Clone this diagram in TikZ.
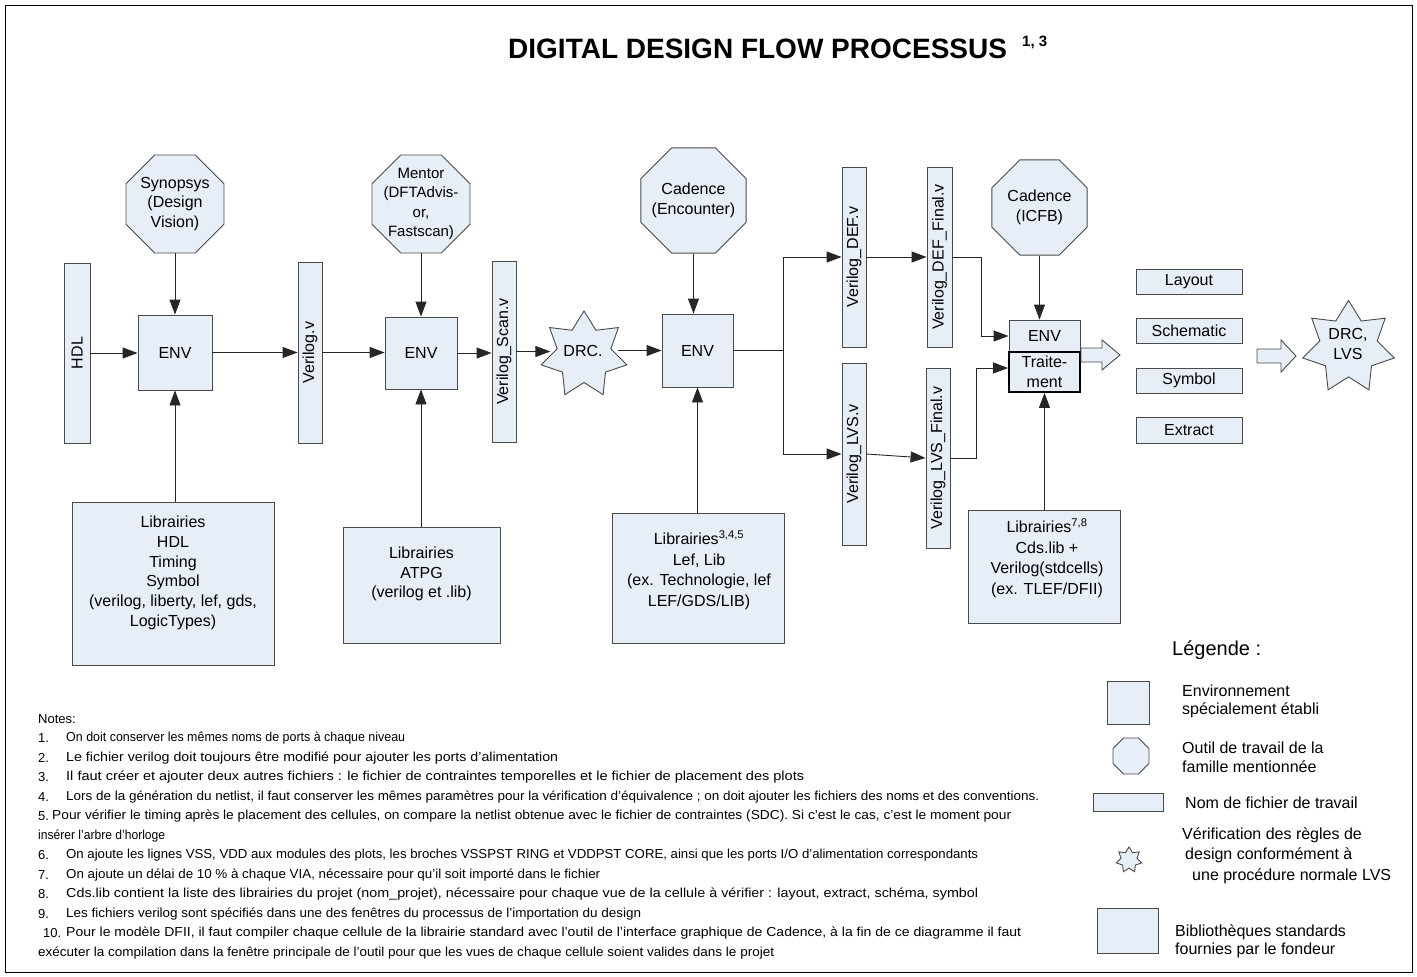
\documentclass[tikz,border=0pt]{standalone}
\usepackage{fontspec}
\setmainfont{Liberation Sans}
\usepackage{graphicx}
\usetikzlibrary{shapes.geometric,arrows.meta,calc}

\definecolor{boxfill}{HTML}{E8EEF7}
\definecolor{boxline}{HTML}{4A4A4A}
\definecolor{wire}{HTML}{262626}

% stretch a note line to a given width (pt) while keeping its height
\newcommand{\fitto}[2]{\resizebox{#1pt}{\height}{#2}}

\tikzset{
  shapebase/.style={draw=boxline, fill=boxfill, line width=0.9pt, inner sep=0pt},
  procbox/.style={shapebase, rectangle, font=\fontsize{16}{19.5}\selectfont, align=center},
  barbox/.style={shapebase, rectangle},
  octo/.style={shapebase, regular polygon, regular polygon sides=8},
  burst/.style={shapebase, star, star points=7, star point ratio=1.6},
  lbl/.style={font=\fontsize{16}{19.5}\selectfont, align=center, inner sep=0pt},
  vlbl/.style={lbl, rotate=90},
  notetxt/.style={font=\fontsize{13}{15}\selectfont, inner sep=0pt, anchor=west},
  legtxt/.style={font=\fontsize{16}{19}\selectfont, inner sep=0pt, anchor=west, align=left},
  arr/.style={draw=wire, line width=0.9pt, -{Triangle[length=15pt,width=11pt]}},
  hollow/.style={draw=boxline, fill=boxfill, line width=0.9pt},
}

\begin{document}
\begin{tikzpicture}[x=1pt,y=-1pt]
\useasboundingbox (0,0) rectangle (1417,977);
\draw[black, line width=1pt] (5,5) rectangle (1412,972);

% ---------- title ----------
\node[font=\fontsize{28}{32}\selectfont\bfseries, anchor=base west, inner sep=0pt] (title) at (508,58) {DIGITAL DESIGN FLOW PROCESSUS};
\node[font=\fontsize{15}{17}\selectfont\bfseries, anchor=base west, inner sep=0pt] (titlesup) at (1022,46) {1, 3};

% ---------- tools (octagons) ----------
\node[octo, minimum size=106] (o1) at (175,204) {};
\node[lbl] (o1t) at (o1.center) {Synopsys\\(Design\\Vision)};
\node[octo, minimum size=106] (o2) at (421,204) {};
\node[lbl, font=\fontsize{15}{19.5}\selectfont] (o2t) at (o2.center) {Mentor\\(DFTAdvis-\\or,\\Fastscan)};
\node[octo, minimum size=114] (o3) at (693.5,200.5) {};
\node[lbl] (o3t) at (o3.center) {Cadence\\(Encounter)};
\node[octo, minimum size=103] (o4) at (1039.5,207.5) {};
\node[lbl] (o4t) at (o4.center) {Cadence\\(ICFB)};

% ---------- working files (bars) ----------
\node[barbox, minimum width=26, minimum height=180] (hdl) at (77,353) {};
\node[vlbl] (hdlt) at (hdl.center) {HDL};
\node[barbox, minimum width=24, minimum height=181] (vv) at (310,352.5) {};
\node[vlbl] (vvt) at (vv.center) {Verilog.v};
\node[barbox, minimum width=24, minimum height=181] (vs) at (504,351.5) {};
\node[vlbl] (vst) at (vs.center) {Verilog\_Scan.v};
\node[barbox, minimum width=24, minimum height=180] (ua) at (854,257) {};
\node[vlbl] (uat) at (ua.center) {Verilog\_DEF.v};
\node[barbox, minimum width=25, minimum height=180] (ub) at (939.5,257) {};
\node[vlbl] (ubt) at (ub.center) {Verilog\_DEF\_Final.v};
\node[barbox, minimum width=24, minimum height=182] (la) at (854,454) {};
\node[vlbl] (lat) at (la.center) {Verilog\_LVS.v};
\node[barbox, minimum width=24, minimum height=180] (lb) at (938,458) {};
\node[vlbl] (lbt) at (lb.center) {Verilog\_LVS\_Final.v};

% ---------- environments ----------
\node[procbox, minimum width=74, minimum height=75] (b1) at (175,352.5) {ENV};
\node[procbox, minimum width=72, minimum height=72] (b2) at (421,353) {ENV};
\node[procbox, minimum width=71, minimum height=73] (b3) at (697.5,350.5) {ENV};
\node[procbox, minimum width=71, minimum height=32] (b4t) at (1044.5,336) {ENV};
\node[procbox, minimum width=71, minimum height=40, draw=black, line width=1.8pt] (b4b) at (1044.5,372) {Traite-\\ment};

% ---------- checks (stars) ----------
\node[burst, minimum size=88] (s1) at (584,355) {};
\node[lbl] (s1t) at (583,351) {DRC.};
\node[burst, minimum size=94] (s2) at (1348.5,347.5) {};
\node[lbl] (s2t) at (1348,344) {DRC,\\LVS};

% ---------- libraries ----------
\node[shapebase, minimum width=202, minimum height=163] (l1) at (173,583.5) {};
\node[lbl, font=\fontsize{16}{19.7}\selectfont] (l1t) at (173,573) {Librairies\\HDL\\Timing\\Symbol\\(verilog, liberty, lef, gds,\\LogicTypes)};
\node[shapebase, minimum width=157, minimum height=116] (l2) at (421.5,585) {};
\node[lbl] (l2t) at (421.5,574) {Librairies\\ATPG\\(verilog et .lib)};
\node[shapebase, minimum width=172, minimum height=130] (l3) at (698,578) {};
\node[lbl, font=\fontsize{16}{20.5}\selectfont] (l3t) at (699,570) {Librairies\textsuperscript{3,4,5}\\Lef, Lib\\(ex. Technologie, lef\\LEF/GDS/LIB)};
\node[shapebase, minimum width=152, minimum height=113] (l4) at (1044,566.5) {};
\node[lbl, font=\fontsize{16}{20.5}\selectfont] (l4t) at (1047,558) {Librairies\textsuperscript{7,8}\\Cds.lib +\\Verilog(stdcells)\\(ex. TLEF/DFII)};

% ---------- output views ----------
\node[procbox, minimum width=106, minimum height=25] (r1) at (1189,282) {Layout};
\node[procbox, minimum width=106, minimum height=25] (r2) at (1189,330.5) {Schematic};
\node[procbox, minimum width=106, minimum height=25] (r3) at (1189,380.5) {Symbol};
\node[procbox, minimum width=106, minimum height=26] (r4) at (1189,430) {Extract};

% ---------- block arrows ----------
\draw[hollow] (1081,348) -- (1102,348) -- (1102,340) -- (1120,355) -- (1102,370) -- (1102,362) -- (1081,362) -- cycle;
\draw[hollow] (1257,349) -- (1281,349) -- (1281,340) -- (1296,356) -- (1281,372) -- (1281,363) -- (1257,363) -- cycle;

% ---------- connectors ----------
\draw[arr] (hdl.east) -- (b1.west |- hdl.east);
\draw[arr] (b1.east) -- (vv.west |- b1.east);
\draw[arr] (vv.east) -- (b2.west |- vv.east);
\draw[arr] (b2.east) -- (vs.west |- b2.east);
\draw[arr] (vs.east) -- (vs.east -| s1.west);
\draw[arr] (s1.east |- b3.west) -- (b3.west);
\draw[arr] (b3.east) -- ++(50,0) |- (ua.west);
\draw[arr] (b3.east) -- ++(50,0) |- (la.west);
\draw[arr] (ua.east) -- (ub.west);
\draw[arr] (la.east) -- (lb.west);
\draw[arr] (ub.east) -- ++(29,0) |- (b4t.west);
\draw[arr] (lb.east) -- ++(26,0) |- ($(b4b.west)+(0,-4)$);

\draw[arr] (o1.south) -- (o1.south |- b1.north);
\draw[arr] (o2.south) -- (o2.south |- b2.north);
\draw[arr] (o3.south) -- (o3.south |- b3.north);
\draw[arr] (o4.south) -- (o4.south |- b4t.north);

\draw[arr] (b1.south |- l1.north) -- (b1.south);
\draw[arr] (b2.south |- l2.north) -- (b2.south);
\draw[arr] (b3.south |- l3.north) -- (b3.south);
\draw[arr] (b4b.south |- l4.north) -- (b4b.south);

% ---------- legend ----------
\node[font=\fontsize{20}{24}\selectfont, anchor=west, inner sep=0pt] (legtitle) at (1172,650) {Légende :};
\node[shapebase, minimum width=42, minimum height=43] (legsq) at (1128,702.5) {};
\node[legtxt, font=\fontsize{16}{18}\selectfont] (legsqt) at (1182,701) {Environnement\\spécialement établi};
\node[octo, minimum size=39] (legoct) at (1131,756) {};
\node[legtxt] (legoctt) at (1182,757.5) {Outil de travail de la\\famille mentionnée};
\node[shapebase, minimum width=70, minimum height=18] (legbar) at (1128,802) {};
\node[legtxt] (legbart) at (1185,803) {Nom de fichier de travail};
\node[burst, minimum size=26] (legstar) at (1129,860) {};
\node[legtxt, font=\fontsize{16}{20.5}\selectfont] (legstart) at (1182,855.5) {Vérification des règles de\\\hspace*{3pt}design conformément à\\\hspace*{10pt}une procédure normale LVS};
\node[shapebase, minimum width=61, minimum height=45] (legbig) at (1127.5,930.5) {};
\node[legtxt, font=\fontsize{16}{18}\selectfont] (legbigt) at (1175,941) {Bibliothèques standards\\fournies par le fondeur};

% ---------- notes ----------
\node[notetxt] (ntitle) at (38,719) {Notes:};
\node[notetxt] (n1) at (38,738.5) {1.};
\node[notetxt] (t1) at (66,738.5) {\fitto{339}{On doit conserver les mêmes noms de ports à chaque niveau}};
\node[notetxt] (n2) at (38,758) {2.};
\node[notetxt] (t2) at (66,758) {\fitto{492}{Le fichier verilog doit toujours être modifié pour ajouter les ports d'alimentation}};
\node[notetxt] (n3) at (38,777.5) {3.};
\node[notetxt] (t3) at (66,777.5) {\fitto{738}{Il faut créer et ajouter deux autres fichiers : le fichier de contraintes temporelles et le fichier de placement des plots}};
\node[notetxt] (n4) at (38,797) {4.};
\node[notetxt] (t4) at (66,797) {\fitto{973}{Lors de la génération du netlist, il faut conserver les mêmes paramètres pour la vérification d'équivalence ; on doit ajouter les fichiers des noms et des conventions.}};
\node[notetxt] (n5) at (38,816.5) {5.};
\node[notetxt] (t5) at (52,816.5) {\fitto{959}{Pour vérifier le timing après le placement des cellules, on compare la netlist obtenue avec le fichier de contraintes (SDC). Si c'est le cas, c'est le moment pour}};
\node[notetxt] (t6) at (38,836) {\fitto{127}{insérer l'arbre d'horloge}};
\node[notetxt] (n7) at (38,855.5) {6.};
\node[notetxt] (t7) at (66,855.5) {\fitto{912}{On ajoute les lignes VSS, VDD aux modules des plots, les broches VSSPST RING et VDDPST CORE, ainsi que les ports I/O d'alimentation correspondants}};
\node[notetxt] (n8) at (38,875) {7.};
\node[notetxt] (t8) at (66,875) {\fitto{534}{On ajoute un délai de 10 \% à chaque VIA, nécessaire pour qu'il soit importé dans le fichier}};
\node[notetxt] (n9) at (38,894.5) {8.};
\node[notetxt] (t9) at (66,894.5) {\fitto{912}{Cds.lib contient la liste des librairies du projet (nom\_projet), nécessaire pour chaque vue de la cellule à vérifier : layout, extract, schéma, symbol}};
\node[notetxt] (n10) at (38,914) {9.};
\node[notetxt] (t10) at (66,914) {\fitto{575}{Les fichiers verilog sont spécifiés dans une des fenêtres du processus de l'importation du design}};
\node[notetxt] (n11) at (43,933.5) {10.};
\node[notetxt] (t11) at (66,933.5) {\fitto{955}{Pour le modèle DFII, il faut compiler chaque cellule de la librairie standard avec l'outil de l'interface graphique de Cadence, à la fin de ce diagramme il faut}};
\node[notetxt] (t12) at (38,953) {\fitto{736}{exécuter la compilation dans la fenêtre principale de l'outil pour que les vues de chaque cellule soient valides dans le projet}};
\end{tikzpicture}
\end{document}
